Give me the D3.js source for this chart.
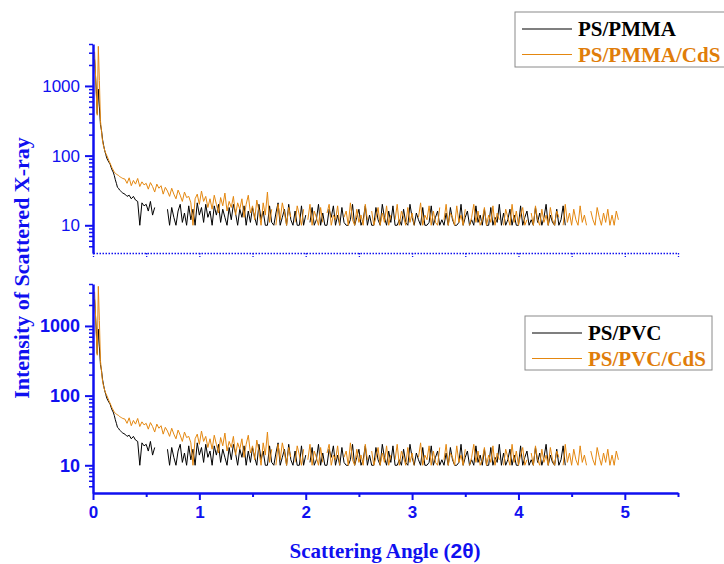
<!DOCTYPE html>
<html>
<head>
<meta charset="utf-8">
<script src="https://cdn.jsdelivr.net/npm/d3@7"></script>
<style>
  body { margin: 0; background: #fff; }
</style>
</head>
<body>
<div id="chart"></div>
<script>
// scattering angle (2θ) of the steep start, then a regular grid for the tail
const headAngles = [0.015, 0.02, 0.03, 0.04, 0.05, 0.06, 0.07, 0.08, 0.09, 0.10,
  0.11, 0.12, 0.13, 0.14, 0.15, 0.16, 0.17, 0.18, 0.19, 0.20,
  0.21, 0.22, 0.23, 0.24, 0.25, 0.26, 0.27, 0.28];
const tailStart = 0.30;
const tailStep = 0.02;

const blendHead = [2400, 1800, 900, 400, 900, 500, 280, 230, 170, 140,
  118, 104, 92, 85, 80, 76, 68, 62, 58, 52,
  45, 40, 35, 34, 32, 31, 30, 29];
const blendTail = [
  28, 26, 27, 24, 26, 23, 22, 10, 21, 19,
  20, 16, 22, 14, 18, null, null, null, null, null,
  17, 10, 18, 13, 10, 16, 20, 11, 15, 10,
  19, 12, 17, 10, 21, 14, 18, 11, 20, 13,
  16, 10, 19, 14, 20, 11, 17, 13, 10, 18,
  12, 20, 15, 10, 17, 13, 19, 10, 16, 11,
  18, 13, 10, 20, 12, 16, 10, 10, 19, 11,
  10, 15, 21, 10, 13, 17, 10, 20, 12, 10,
  16, 10, 10, 19, 10, 14, null, 11, 18, 10,
  12, 20, 10, 15, 10, 10, 17, 13, 19, 10,
  14, 10, 18, 11, 10, 10, 12, 20, 10, 13,
  17, 10, 12, 19, 10, 14, 10, 10, 18, 12,
  10, 20, 13, 10, 16, 11, 19, 10, 10, 12,
  10, 17, 11, 10, 20, 13, 10, 15, 12, 10,
  18, 10, 10, 11, 19, 10, 13, 16, 10, 12,
  10, 15, 10, 18, 12, 10, 10, 11, 20, 10,
  13, 16, 10, 12, 10, 19, 11, 14, 10, 17,
  10, 10, 18, 10, 13, 11, 20, 10, 15, 10,
  12, 17, 10, 14, 10, 10, 19, 10, 13, 16,
  10, 12, 10, 18, 11, 15, 10, 13, 20, 10,
  14, 11, 10, 17, 10, 12, 19, 10];

const cdsHead = [3100, 2000, 800, 380, 3700, 1200, 320, 220, 160, 135,
  120, 108, 100, 92, 84, 78, 72, 66, 62, 58,
  56, 54, 53, 52, 50, 49, 48, 47];
const cdsTail = [
  46, 40, 48, 37, 44, 39, 47, 36, 42, 38,
  40, 33, 41, 36, 30, 39, 34, 37, 28, 35,
  31, 26, 34, 28, 24, 32, 27, 22, 30, 25,
  26, 21, 10, 24, 28, 20, 31, 22, 26, 18,
  24, 17, 27, 20, 15, 25, 19, 29, 16, 22,
  18, 26, 14, 21, 17, 24, 13, 20, 27, 15,
  19, 12, 23, 16, 10, 21, 14, 30, 11, 17,
  null, 10, 20, 12, 21, 15, 10, 18, 13, null,
  11, 19, 14, 10, 17, null, 12, 20, 10, 16,
  13, 10, 18, 11, null, 15, 20, 10, 14, 12,
  19, 10, null, 13, 16, 10, 21, 12, 10, 17,
  11, 14, 10, 20, 12, null, 16, 10, 13, 18,
  10, 15, 11, 19, 10, 14, null, 12, 20, 10,
  16, 13, 10, 18, 11, 15, 10, null, 13, 21,
  10, 14, 12, 19, 10, 16, 11, 10, 18, null,
  12, 20, 10, 15, 13, 10, 19, 11, 14, 10,
  17, null, 10, 13, 20, 11, 16, 10, 12, 18,
  10, 14, 11, 19, 10, 15, 12, null, 10, 17,
  13, 10, 20, 11, 16, 10, 14, 18, 10, 12,
  null, 15, 10, 19, 12, 10, 17, 11, 14, 10,
  18, 12, 10, 16, 13, null, 10, 20, 11, 15,
  10, 17, 12, 10, 19, 11, 14, 10, null, 16,
  12, 10, 18, 13, 10, 15, 11, 17, 10, 14,
  10, 16, 12];

// both panels show the same measured curves in the figure
const panels = [
  { names: ['PS/PMMA', 'PS/PMMA/CdS'], head: [blendHead, cdsHead], tail: [blendTail, cdsTail] },
  { names: ['PS/PVC', 'PS/PVC/CdS'], head: [blendHead, cdsHead], tail: [blendTail, cdsTail] },
];

const yMajor = [10, 100, 1000];
const yMinor = [5, 6, 7, 8, 9, 20, 30, 40, 50, 60, 70, 80, 90,
  200, 300, 400, 500, 600, 700, 800, 900, 2000, 3000, 4000];
const xMajor = [0, 1, 2, 3, 4, 5];
const xMinor = [0.5, 1.5, 2.5, 3.5, 4.5, 5.5];

const blue = '#1010f0';
const colors = ['#000000', '#e4870f'];
const serif = '"Liberation Serif", "Times New Roman", serif';
const sans = '"Liberation Sans", Arial, sans-serif';

const svg = d3.select('#chart').append('svg')
  .attr('width', 724)
  .attr('height', 564);

const xScale = d3.scaleLinear().domain([0, 5.5]).range([93, 678]);

const layout = [
  { top: 44, bottom: 253, legend: { x: 515, y: 12, w: 215, h: 55 } },
  { top: 284, bottom: 493, legend: { x: 525, y: 316, w: 187, h: 54 } },
];

function toPoints(head, tail) {
  const pts = headAngles.map((a, i) => ({ x: a, y: head[i] }));
  tail.forEach((v, i) => pts.push({ x: tailStart + i * tailStep, y: v }));
  return pts;
}

panels.forEach((p, pi) => {
  const L = layout[pi];
  const isBottom = pi === 1;
  const yScale = d3.scaleLog().domain([4, 4000]).range([L.bottom, L.top]);
  const g = svg.append('g');

  const line = d3.line()
    .defined((d) => d.y !== null)
    .x((d) => xScale(d.x))
    .y((d) => yScale(d.y));

  p.names.forEach((name, si) => {
    g.append('path')
      .datum(toPoints(p.head[si], p.tail[si]))
      .attr('fill', 'none')
      .attr('stroke', colors[si])
      .attr('stroke-width', 1)
      .attr('d', line);
  });

  // x axis
  if (isBottom) {
    const xAxis = g.append('g')
      .attr('transform', `translate(0,${L.bottom})`)
      .call(d3.axisBottom(xScale).tickValues(xMajor).tickSize(7).tickSizeOuter(0).tickPadding(6)
        .tickFormat(d3.format('d')));
    xAxis.select('.domain').attr('stroke', blue).attr('stroke-width', 2.5);
    xAxis.selectAll('.tick line').attr('stroke', blue).attr('stroke-width', 2);
    xAxis.selectAll('.tick text')
      .attr('fill', blue)
      .style('font-family', sans)
      .style('font-weight', 'bold')
      .style('font-size', '17px');
    const xMin = g.append('g')
      .attr('transform', `translate(0,${L.bottom})`)
      .call(d3.axisBottom(xScale).tickValues(xMinor).tickSize(4).tickSizeOuter(0).tickFormat(''));
    xMin.select('.domain').remove();
    xMin.selectAll('.tick line').attr('stroke', blue).attr('stroke-width', 2);
  } else {
    const xAxis = g.append('g')
      .attr('transform', `translate(0,${L.bottom})`)
      .call(d3.axisBottom(xScale).tickValues(xMajor.concat(xMinor)).tickSize(4).tickSizeOuter(0).tickFormat(''));
    xAxis.select('.domain')
      .attr('stroke', blue)
      .attr('stroke-width', 1.3)
      .attr('stroke-dasharray', '1.5,1.5');
    xAxis.selectAll('.tick line')
      .attr('stroke', blue)
      .attr('stroke-width', 1.3)
      .attr('stroke-dasharray', '1.5,1.5');
  }

  // y axis
  const yAxis = g.append('g')
    .attr('transform', `translate(${xScale(0)},0)`)
    .call(d3.axisLeft(yScale).tickValues(yMajor).tickSize(8).tickSizeOuter(0).tickPadding(5)
      .tickFormat(d3.format('d')));
  yAxis.select('.domain').attr('stroke', blue).attr('stroke-width', 2.5);
  yAxis.selectAll('.tick line').attr('stroke', blue).attr('stroke-width', 2);
  yAxis.selectAll('.tick text')
    .attr('fill', blue)
    .style('font-family', sans)
    .style('font-weight', isBottom ? 'bold' : 'normal')
    .style('font-size', isBottom ? '18px' : '17px');
  const yMin = g.append('g')
    .attr('transform', `translate(${xScale(0)},0)`)
    .call(d3.axisLeft(yScale).tickValues(yMinor).tickSize(4).tickSizeOuter(0).tickFormat(''));
  yMin.select('.domain').remove();
  yMin.selectAll('.tick line').attr('stroke', blue).attr('stroke-width', 1.5);

  // legend
  const lg = g.append('g').attr('transform', `translate(${L.legend.x},${L.legend.y})`);
  lg.append('rect')
    .attr('width', L.legend.w)
    .attr('height', L.legend.h)
    .attr('fill', 'none')
    .attr('stroke', '#8a8a8a')
    .attr('stroke-width', 1);
  p.names.forEach((name, si) => {
    const yy = 17 + si * 25.5;
    lg.append('line')
      .attr('x1', 7)
      .attr('x2', 57)
      .attr('y1', yy)
      .attr('y2', yy)
      .attr('stroke', colors[si])
      .attr('stroke-width', 1.2);
    lg.append('text')
      .attr('x', 63)
      .attr('y', yy)
      .attr('dy', '0.35em')
      .attr('fill', si === 0 ? '#000' : '#e07d0a')
      .style('font-family', serif)
      .style('font-weight', 'bold')
      .style('font-size', '21px')
      .text(name);
  });
});

// axis titles
svg.append('text')
  .attr('transform', 'translate(29,268) rotate(-90)')
  .attr('text-anchor', 'middle')
  .attr('fill', blue)
  .style('font-family', serif)
  .style('font-weight', 'bold')
  .style('font-size', '22px')
  .text('Intensity of Scattered X-ray');

const xt = svg.append('text')
  .attr('x', 385)
  .attr('y', 558)
  .attr('text-anchor', 'middle')
  .attr('fill', blue)
  .style('font-family', serif)
  .style('font-weight', 'bold')
  .style('font-size', '21px');
xt.append('tspan').text('Scattering Angle (');
xt.append('tspan').style('font-family', sans).text('2θ');
xt.append('tspan').text(')');
</script>
</body>
</html>
